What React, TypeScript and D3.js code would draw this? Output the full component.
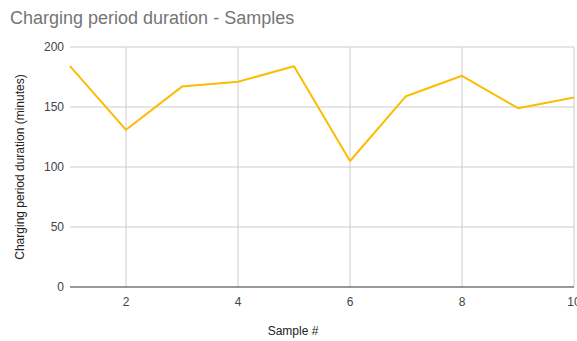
import { useMemo } from "react";
import * as d3 from "d3";

// Samples (minutes per charging period).
const SAMPLES = [1, 2, 3, 4, 5, 6, 7, 8, 9, 10];
const DURATIONS = [184, 131, 167, 171, 184, 105, 159, 176, 149, 158];
const X_TICKS = [2, 4, 6, 8, 10];
const Y_TICKS = [0, 50, 100, 150, 200];

const W = 577;
const H = 341;
const M = { top: 47, right: 3, bottom: 54, left: 70 };
const FONT = "Arial, 'Liberation Sans', sans-serif";

export default function App() {
  const x = useMemo(
    () => d3.scaleLinear().domain([1, 10]).range([M.left, W - M.right]),
    []
  );
  const y = useMemo(
    () => d3.scaleLinear().domain([0, 200]).range([H - M.bottom, M.top]),
    []
  );
  const line = d3
    .line<number>()
    .x((_, i) => x(SAMPLES[i]))
    .y((d) => y(d));

  return (
    <svg
      width={W}
      height={H}
      style={{ position: "absolute", left: 0, top: 0, background: "#fff" }}
      fontFamily={FONT}
    >
      <text x={10} y={24} fontSize={18} fill="#757575">
        Charging period duration - Samples
      </text>

      {/* grid */}
      {Y_TICKS.filter((t) => t > 0).map((t) => (
        <line key={t} x1={M.left} x2={W - M.right} y1={y(t)} y2={y(t)} stroke="#cccccc" strokeWidth={1} />
      ))}
      {X_TICKS.map((t) => (
        <line key={t} x1={x(t)} x2={x(t)} y1={M.top} y2={y(0)} stroke="#cccccc" strokeWidth={1} />
      ))}

      {/* y tick labels */}
      {Y_TICKS.map((t) => (
        <text key={t} x={M.left - 6} y={y(t) + 4} fontSize={12} fill="#444" textAnchor="end">
          {t}
        </text>
      ))}
      {/* x tick labels — the last one runs off the edge, as in the source chart */}
      {X_TICKS.map((t) => (
        <text key={t} x={x(t)} y={y(0) + 19} fontSize={12} fill="#444" textAnchor="middle">
          {t}
        </text>
      ))}

      <path d={line(DURATIONS) ?? ""} fill="none" stroke="#fbbc04" strokeWidth={2} strokeLinejoin="round" />

      {/* baseline */}
      <line x1={M.left} x2={W - M.right} y1={y(0)} y2={y(0)} stroke="#333" strokeWidth={1} />

      <text x={293} y={335} fontSize={12} fill="#222" textAnchor="middle">
        Sample #
      </text>
      <text
        transform={`translate(24,${(M.top + y(0)) / 2}) rotate(-90)`}
        fontSize={12}
        fill="#222"
        textAnchor="middle"
      >
        Charging period duration (minutes)
      </text>
    </svg>
  );
}
